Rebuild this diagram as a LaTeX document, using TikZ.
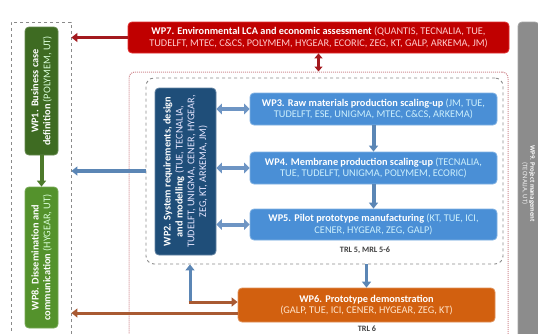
\documentclass[tikz,border=0pt]{standalone}
\usepackage{fontspec}
\setmainfont{Carlito}
\usetikzlibrary{arrows.meta}
\definecolor{wpred}{HTML}{C00000}
\definecolor{wpredline}{HTML}{E03030}
\definecolor{arrred}{HTML}{A3191E}
\definecolor{wpgreenA}{HTML}{3E6B22}
\definecolor{wpgreenB}{HTML}{54922C}
\definecolor{wpdblue}{HTML}{1F4E79}
\definecolor{wplblue}{HTML}{4A8FD6}
\definecolor{wporange}{HTML}{D2600F}
\definecolor{wpgray}{HTML}{8C8C8C}
\definecolor{arrblue}{HTML}{5B86B5}
\definecolor{arrlblue}{HTML}{6E95C4}
\definecolor{arrbrown}{HTML}{A95A32}
\definecolor{arrgreen}{HTML}{4D7A2B}
\definecolor{dashgray}{HTML}{8A8A8A}
\definecolor{dotred}{HTML}{D08A90}
\newcommand{\ptn}[2]{\textcolor{#1}{\mdseries #2}}
\tikzset{
  wpbox/.style={rounded corners=4pt, inner sep=1pt, align=center, text=white,
    font=\fontsize{10.3}{11.8}\selectfont\bfseries, line width=0.8pt},
  fatarrow/.style={line width=3pt, -{Triangle[width=9pt,length=6pt]}},
  fatboth/.style={line width=4pt, {Triangle[width=10.5pt,length=5.5pt]}-{Triangle[width=10.5pt,length=5.5pt]}},
  thinboth/.style={line width=2.6pt, {Triangle[width=8pt,length=5pt]}-{Triangle[width=8pt,length=5pt]}},
  trl/.style={font=\fontsize{8.2}{9}\selectfont\bfseries, text=black!75, inner sep=0pt},
}
\begin{document}
\begin{tikzpicture}[x=1pt,y=-1pt]
\useasboundingbox (0,0) rectangle (538,333);
\clip (0,0) rectangle (538,333);

% group frames
\node[draw=dashgray, dashed, line width=0.8pt, minimum width=60pt, minimum height=330pt, inner sep=0pt] (leftgrp) at (41,187) {};
\node[draw=dotred, densely dotted, line width=1pt, rounded corners=6pt, minimum width=379pt, minimum height=280pt, inner sep=0pt] (outer) at (318.5,212) {};
\node[draw=dashgray, dashed, line width=0.9pt, rounded corners=8pt, minimum width=357pt, minimum height=186pt, inner sep=0pt] (inner) at (324.5,171) {};

% work packages
\node[wpbox, fill=wpred, draw=wpredline, minimum width=381pt, minimum height=31pt] (wp7) at (318.5,37.5)
 {WP7. Environmental LCA and economic assessment \ptn{red!20!white}{(QUANTIS, TECNALIA, TUE,}\\
  \ptn{red!20!white}{TUDELFT, MTEC, C\&CS, POLYMEM, HYGEAR, ECORIC, ZEG, KT, GALP, ARKEMA, JM)}};

\node[wpbox, fill=wpgray, draw=wpgray!80!white, rotate=-90, minimum width=323pt, minimum height=21pt,
      inner sep=0pt, font=\fontsize{6.8}{7.6}\selectfont\bfseries] (wp9) at (528.5,183.5)
 {WP9. Project management\\ \ptn{white!90!gray}{(TECNALIA, UT)}};

\node[wpbox, fill=wpgreenA, draw=wpgreenA!80!white, rotate=90, minimum width=128pt, minimum height=33pt] (wp1) at (41.5,91)
 {WP1. Business case\\ definition \ptn{green!15!white}{(POLYMEM, UT)}};
\node[wpbox, fill=wpgreenB, draw=wpgreenB!80!white, rotate=90, minimum width=141pt, minimum height=33pt] (wp8) at (41.5,257.5)
 {WP8. Dissemination and\\ communication \ptn{green!15!white}{(HYGEAR, UT)}};

\node[wpbox, fill=wpdblue, draw=wpdblue!70!white, rotate=90, minimum width=167pt, minimum height=61pt] (wp2) at (185.5,171.5)
 {WP2. System requirements, design\\ and modelling \ptn{blue!10!white}{(TUE, TECNALIA,}\\
  \ptn{blue!10!white}{TUDELFT, UNIGMA, CENER, HYGEAR,}\\ \ptn{blue!10!white}{ZEG, KT, ARKEMA, JM)}};

\node[wpbox, fill=wplblue, draw=wplblue!70!white, minimum width=247pt, minimum height=32pt] (wp3) at (373.5,109)
 {WP3. Raw materials production scaling-up \ptn{cyan!20!white}{(JM, TUE,}\\
  \ptn{cyan!20!white}{TUDELFT, ESE, UNIGMA, MTEC, C\&CS, ARKEMA)}};
\node[wpbox, fill=wplblue, draw=wplblue!70!white, minimum width=247pt, minimum height=32pt] (wp4) at (373.5,168)
 {WP4. Membrane production scaling-up \ptn{cyan!20!white}{(TECNALIA,}\\
  \ptn{cyan!20!white}{TUE, TUDELFT, UNIGMA, POLYMEM, ECORIC)}};
\node[wpbox, fill=wplblue, draw=wplblue!70!white, minimum width=247pt, minimum height=31pt] (wp5) at (373.5,224.5)
 {WP5. Pilot prototype manufacturing \ptn{cyan!20!white}{(KT, TUE, ICI,}\\
  \ptn{cyan!20!white}{CENER, HYGEAR, ZEG, GALP)}};

\node[wpbox, fill=wporange, draw=wporange!70!white, minimum width=257pt, minimum height=34pt] (wp6) at (366.5,305)
 {WP6. Prototype demonstration\\ \ptn{orange!20!white}{(GALP, TUE, ICI, CENER, HYGEAR, ZEG, KT)}};

\node[trl] (trl5) at (365,250) {TRL 5, MRL 5-6};
\node[trl] (trl6) at (367,328.5) {TRL 6};

% connectors
\draw[thinboth, arrred] (wp7.south) -- (wp7.south |- outer.north);
\draw[fatarrow, arrred] (wp7.west) -- (wp7.west -| leftgrp.east);
\draw[fatarrow, arrblue, line width=3.6pt] (inner.west) -- (inner.west -| leftgrp.east);
\draw[fatarrow, arrgreen, line width=4pt] (wp1.west) -- (wp8.east);

\draw[fatboth, arrlblue] (wp2.south |- wp3.west) -- (wp3.west);
\draw[fatboth, arrlblue] (wp2.south |- wp4.west) -- (wp4.west);
\draw[fatboth, arrlblue] (wp2.south |- wp5.west) -- (wp5.west);
\draw[fatarrow, arrblue, line width=4pt] (wp3.south) -- (wp4.north);
\draw[fatarrow, arrblue, line width=4pt] (wp4.south) -- (wp5.north);
\draw[fatarrow, arrblue, line width=3pt] (wp6.north |- inner.south) -- (wp6.north);

\coordinate (c1) at (190,302);
\draw[fatarrow, arrblue] (c1) -- (c1 |- inner.south);
\draw[fatarrow, arrbrown] ([xshift=-1.5pt]c1) -- (c1 -| wp6.west);
\draw[fatarrow, arrbrown] ([yshift=-8pt]wp6.west) -- ([yshift=-8pt]wp6.west -| leftgrp.east);
\end{tikzpicture}
\end{document}
